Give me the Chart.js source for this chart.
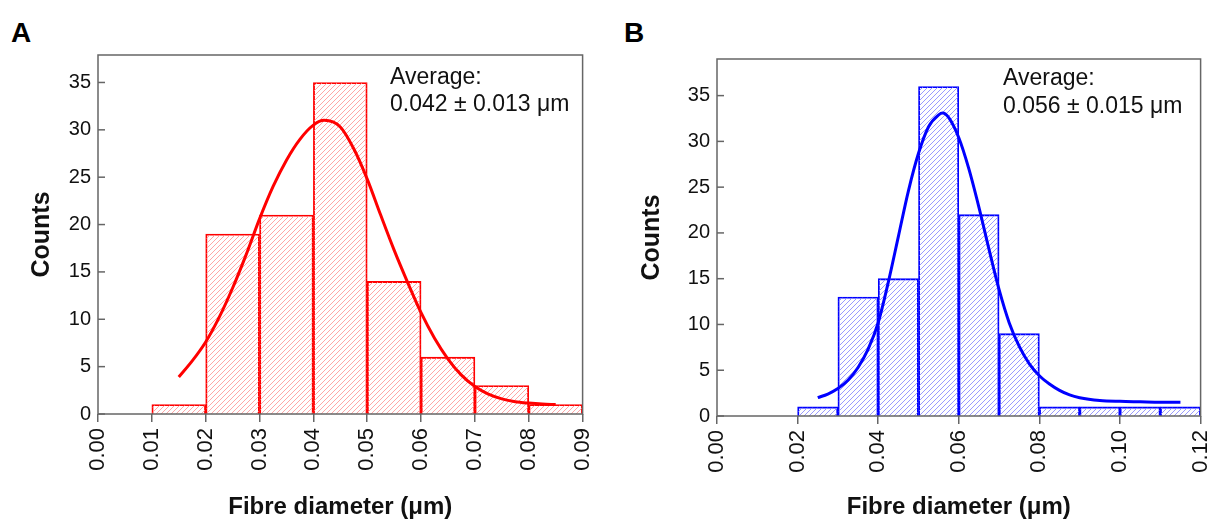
<!DOCTYPE html>
<html>
<head>
<meta charset="utf-8">
<script src="https://cdn.jsdelivr.net/npm/chart.js@4.4.0/dist/chart.umd.min.js"></script>
<style>
  body { margin: 0; background: #fff; width: 1210px; height: 523px; overflow: hidden; position: relative;
         font-family: "Liberation Sans", Arial, sans-serif; }
  .panel { position: absolute; top: 0; height: 523px; }
  #wrapA { left: 0; width: 615px; }
  #wrapB { left: 610px; width: 623px; }
  .tag { position: absolute; font-weight: bold; font-size: 28px; line-height: 28px; color: #000; }
</style>
</head>
<body>
<div class="tag" style="left:11px;top:19px">A</div>
<div class="tag" style="left:624px;top:19px">B</div>
<div id="wrapA" class="panel"><canvas id="chartA"></canvas></div>
<div id="wrapB" class="panel"><canvas id="chartB"></canvas></div>
<script>
// panel A - bins of 0.01 um
var binCentersA = [0.015, 0.025, 0.035, 0.045, 0.055, 0.065, 0.075, 0.085];
var countsA = [1, 19, 21, 35, 14, 6, 3, 1];
var fitXA = [0.015, 0.0175, 0.02, 0.0225, 0.025, 0.0275, 0.03, 0.0325, 0.035, 0.0375, 0.04, 0.042,
             0.045, 0.0475, 0.05, 0.0525, 0.055, 0.0575, 0.06, 0.0625, 0.065, 0.0675, 0.07, 0.0725,
             0.075, 0.0775, 0.08, 0.0825, 0.085];
var fitYA = [3.9, 5.6, 7.6, 10.2, 13.3, 16.8, 20.6, 24.0, 26.8, 29.0, 30.5, 31.0,
             30.3, 28.0, 24.8, 21.0, 17.3, 13.9, 10.7, 8.0, 5.8, 4.1, 2.9, 2.1,
             1.6, 1.3, 1.15, 1.05, 1.0];
var xTicksA = [0, 0.01, 0.02, 0.03, 0.04, 0.05, 0.06, 0.07, 0.08, 0.09];

// panel B
var binCentersB = [0.025, 0.035, 0.045, 0.055, 0.065, 0.075, 0.085, 0.095, 0.105, 0.115];
var countsB = [1, 13, 15, 36, 22, 9, 1, 1, 1, 1];
var fitXB = [0.025, 0.0275, 0.03, 0.0325, 0.035, 0.0375, 0.04, 0.0425, 0.045, 0.0475, 0.05, 0.0525,
             0.055, 0.056, 0.0575, 0.06, 0.0625, 0.065, 0.0675, 0.07, 0.0725, 0.075, 0.0775, 0.08,
             0.0825, 0.085, 0.0875, 0.09, 0.095, 0.1, 0.105, 0.11, 0.115];
var fitYB = [2.0, 2.4, 3.0, 3.9, 5.3, 7.3, 10.2, 14.6, 19.6, 24.6, 28.7, 31.6,
             32.9, 33.1, 32.6, 30.4, 27.0, 22.8, 18.2, 13.8, 10.2, 7.6, 5.7, 4.4,
             3.5, 2.8, 2.3, 2.0, 1.7, 1.6, 1.55, 1.5, 1.5];
var xTicksB = [0, 0.02, 0.04, 0.06, 0.08, 0.10, 0.12];

var yTitle = 'Counts';
var xTitle = 'Fibre diameter (\u03bcm)';
var noteA = ['Average:', '0.042 \u00b1 0.013 \u03bcm'];
var noteB = ['Average:', '0.056 \u00b1 0.015 \u03bcm'];

Chart.defaults.font.family = '"Liberation Sans", Arial, sans-serif';
Chart.defaults.color = '#111';

function hatch(color) {
    var c = document.createElement('canvas');
    c.width = 5; c.height = 5;
    var g = c.getContext('2d');
    g.strokeStyle = color;
    g.lineWidth = 0.9;
    g.beginPath();
    g.moveTo(0, 5); g.lineTo(5, 0);
    g.moveTo(-1, 1); g.lineTo(1, -1);
    g.moveTo(4, 6); g.lineTo(6, 4);
    g.stroke();
    return g.createPattern(c, 'repeat');
}

// box around plot, inward y ticks and the "Average" note
var framePlugin = {
    id: 'frame',
    afterDraw: function (chart, args, opts) {
        var a = chart.chartArea, ctx = chart.ctx, ys = chart.scales.y;
        ctx.save();
        ctx.strokeStyle = '#666';
        ctx.lineWidth = 1.5;
        ctx.strokeRect(a.left, a.top, a.right - a.left, a.bottom - a.top);
        ys.ticks.forEach(function (t) {
            var py = ys.getPixelForValue(t.value);
            ctx.beginPath();
            ctx.moveTo(a.left, py);
            ctx.lineTo(a.left + 7, py);
            ctx.stroke();
        });
        ctx.fillStyle = '#111';
        ctx.font = '23px "Liberation Sans", Arial, sans-serif';
        ctx.fillText(opts.lines[0], a.left + opts.dx, a.top + opts.dy);
        ctx.fillText(opts.lines[1], a.left + opts.dx, a.top + opts.dy + opts.gap);
        ctx.restore();
    }
};

function histogram(id, centers, counts, fitX, fitY, o) {
    var bars = centers.map(function (x, i) { return {x: x, y: counts[i]}; });
    var fit = fitX.map(function (x, i) { return {x: x, y: fitY[i]}; });
    return new Chart(document.getElementById(id), {
        type: 'bar',
        data: {
            datasets: [{
                type: 'line',
                data: fit,
                borderColor: o.color,
                borderWidth: 3,
                pointRadius: 0,
                cubicInterpolationMode: 'monotone',
                fill: false,
                order: 0
            }, {
                type: 'bar',
                data: bars,
                backgroundColor: hatch(o.hatch),
                borderColor: o.color,
                borderWidth: 1.2,
                barPercentage: 1,
                categoryPercentage: 1,
                order: 1
            }]
        },
        options: {
            responsive: true,
            maintainAspectRatio: false,
            animation: false,
            layout: {padding: {top: o.top, right: o.right, left: 0, bottom: 0}},
            plugins: {
                legend: {display: false},
                tooltip: {enabled: false},
                frame: {lines: o.note, dx: o.dx, dy: o.dy, gap: o.gap}
            },
            scales: {
                x: {
                    type: 'linear',
                    min: 0,
                    max: o.xMax,
                    offset: false,
                    afterBuildTicks: function (s) {
                        s.ticks = o.xTicks.map(function (v) { return {value: v}; });
                    },
                    afterFit: function (s) { s.height = o.xH; },
                    grid: {offset: false, drawOnChartArea: false, drawTicks: true, tickLength: 8,
                           color: '#666', lineWidth: 1.5},
                    border: {display: false},
                    ticks: {
                        minRotation: 90,
                        maxRotation: 90,
                        autoSkip: false,
                        padding: 6,
                        color: '#111',
                        font: {size: 22},
                        callback: function (v) { return v.toFixed(2); }
                    },
                    title: {display: true, text: xTitle, color: '#111',
                            font: {size: 24, weight: 'bold'}, padding: {top: 0, bottom: 1}}
                },
                y: {
                    min: 0,
                    max: o.yMax,
                    afterFit: function (s) { s.width = o.yW; },
                    grid: {display: false, drawTicks: false},
                    border: {display: false},
                    ticks: {stepSize: 5, includeBounds: false, padding: 7, color: '#111', font: {size: 20}},
                    title: {display: true, text: yTitle, color: '#111',
                            font: {size: 25, weight: 'bold'}, padding: {top: 27, bottom: 0}}
                }
            }
        },
        plugins: [framePlugin]
    });
}

histogram('chartA', binCentersA, countsA, fitXA, fitYA, {
    color: '#ff0000', hatch: '#ff9c9c', xMax: 0.09, yMax: 37.9, xTicks: xTicksA,
    top: 55, right: 28, xH: 109, yW: 98, note: noteA, dx: 292, dy: 29, gap: 27
});
histogram('chartB', binCentersB, countsB, fitXB, fitYB, {
    color: '#0000ff', hatch: '#8e8eff', xMax: 0.12, yMax: 39, xTicks: xTicksB,
    top: 59, right: 28, xH: 107, yW: 107, note: noteB, dx: 286, dy: 26, gap: 28
});
</script>
</body>
</html>
